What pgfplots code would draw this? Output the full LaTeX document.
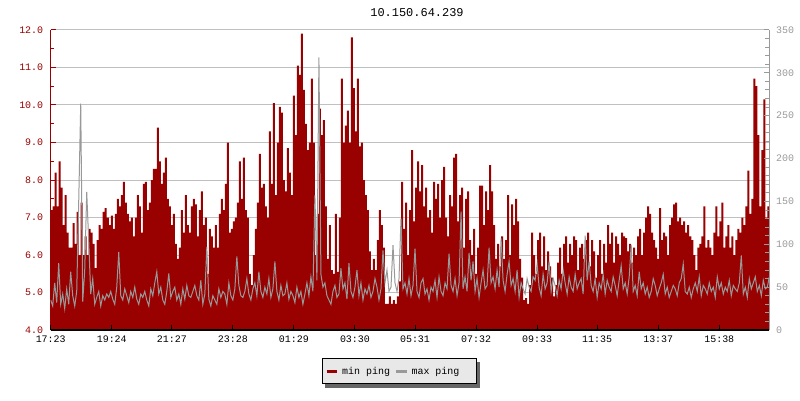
\documentclass[border=0pt]{standalone}
\usepackage{fontspec}
\setmainfont{Liberation Mono}
\usepackage{pgfplots}
\usepackage{pgfplotstable}
\pgfplotsset{compat=1.18}
\usetikzlibrary{backgrounds}

\definecolor{minred}{HTML}{990000}
\definecolor{maxgray}{HTML}{999999}
\definecolor{gridgray}{HTML}{C0C0C0}
\definecolor{legbg}{HTML}{E8E8E8}
\definecolor{shadowgray}{HTML}{666666}

% one sample every 4 minutes from 17:23
\pgfplotstableread[row sep=\\]{v\\
7.2\\7.3\\8.2\\7.3\\8.5\\7.8\\6.8\\7.6\\6.6\\6.2\\
6.2\\6.85\\6.3\\7.15\\6.0\\7.4\\6.0\\6.5\\6.0\\6.7\\
6.6\\6.3\\5.65\\6.4\\6.8\\6.7\\7.15\\7.25\\7.0\\6.8\\
7.05\\6.7\\7.1\\7.5\\7.3\\7.6\\7.95\\7.4\\7.1\\6.9\\
7.0\\6.5\\7.0\\7.6\\7.3\\6.6\\7.9\\7.95\\7.2\\7.4\\
8.0\\8.3\\8.3\\9.4\\8.5\\7.9\\8.2\\8.6\\7.5\\7.3\\
6.8\\7.1\\6.3\\5.9\\6.2\\7.2\\6.6\\7.6\\6.8\\6.6\\
7.3\\7.5\\7.35\\6.5\\7.2\\7.7\\6.8\\7.0\\5.5\\6.7\\
6.5\\6.2\\6.8\\6.2\\7.1\\7.5\\7.2\\7.9\\9.0\\6.6\\
6.7\\6.9\\7.0\\7.4\\8.5\\7.5\\8.6\\7.2\\7.0\\5.5\\
5.2\\6.0\\6.7\\7.4\\8.7\\7.8\\7.9\\7.3\\7.0\\9.3\\
7.9\\10.05\\7.6\\9.0\\9.95\\9.8\\8.0\\7.7\\8.85\\8.2\\
7.6\\10.25\\9.2\\11.05\\10.8\\11.9\\10.4\\9.5\\8.8\\9.0\\
10.7\\9.0\\6.0\\7.1\\9.9\\9.2\\9.6\\7.3\\5.9\\6.8\\
5.6\\5.5\\7.1\\5.55\\7.0\\10.7\\9.0\\9.45\\9.85\\9.0\\
11.8\\10.45\\9.3\\10.7\\8.9\\9.0\\8.0\\7.6\\7.2\\6.1\\
5.6\\5.9\\5.6\\6.4\\7.2\\6.8\\6.2\\4.7\\4.7\\4.9\\
4.7\\4.8\\4.7\\4.9\\5.3\\7.95\\6.7\\7.4\\6.0\\7.2\\
8.8\\6.9\\7.8\\8.5\\7.7\\8.4\\7.3\\7.8\\7.0\\7.2\\
6.6\\7.95\\7.5\\7.9\\7.0\\8.0\\8.35\\7.0\\6.5\\7.6\\
7.3\\8.6\\8.7\\6.9\\7.6\\7.8\\6.2\\7.5\\7.7\\6.4\\
6.0\\6.7\\5.5\\6.2\\7.85\\7.85\\6.8\\7.7\\7.2\\8.4\\
7.7\\6.8\\5.9\\6.3\\5.7\\6.5\\5.9\\6.4\\7.6\\6.0\\
7.35\\6.8\\7.5\\6.9\\5.9\\5.4\\4.8\\4.85\\4.7\\5.2\\
6.6\\6.0\\5.5\\6.4\\6.6\\5.7\\6.5\\5.6\\6.1\\5.7\\
5.4\\4.9\\5.2\\5.8\\6.2\\5.5\\6.3\\6.5\\5.8\\6.3\\
6.0\\6.5\\6.4\\5.6\\6.2\\6.3\\5.9\\6.4\\6.6\\5.7\\
6.4\\6.1\\5.4\\6.0\\6.4\\5.5\\6.3\\5.8\\6.8\\6.3\\
6.6\\5.8\\6.5\\6.3\\6.0\\6.6\\6.5\\6.45\\6.1\\6.3\\
5.8\\6.2\\6.0\\6.5\\6.7\\6.0\\6.6\\7.0\\7.3\\7.1\\
6.6\\6.4\\6.2\\5.9\\7.25\\6.4\\6.6\\6.5\\6.0\\6.8\\
7.0\\7.35\\7.4\\6.9\\7.0\\6.8\\6.9\\6.6\\6.8\\6.5\\
6.4\\6.0\\5.6\\6.2\\6.3\\6.5\\7.3\\6.2\\6.4\\6.2\\
6.0\\6.6\\7.3\\6.5\\6.9\\7.4\\6.2\\6.5\\6.8\\6.2\\
6.5\\6.0\\6.4\\6.7\\6.6\\7.0\\6.8\\7.3\\8.25\\7.1\\
7.5\\10.7\\10.5\\9.2\\7.3\\8.8\\10.15\\7.0\\7.3\\8.35\\
}\minping

\pgfplotstableread[row sep=\\]{v\\
35\\28\\55\\32\\78\\30\\42\\25\\48\\30\\
68\\40\\28\\45\\150\\264\\33\\70\\161\\103\\
42\\60\\30\\38\\45\\28\\40\\35\\42\\38\\
45\\36\\30\\50\\91\\40\\35\\48\\40\\32\\
45\\38\\50\\36\\30\\42\\38\\45\\35\\28\\
48\\40\\55\\68\\42\\50\\35\\30\\45\\66\\
38\\45\\50\\35\\42\\30\\48\\36\\52\\40\\
38\\45\\52\\40\\35\\58\\30\\42\\97\\36\\
28\\40\\35\\30\\48\\38\\45\\42\\30\\55\\
40\\35\\48\\86\\52\\40\\38\\45\\60\\42\\
35\\48\\55\\40\\68\\45\\38\\50\\42\\60\\
38\\48\\80\\45\\35\\52\\40\\42\\55\\36\\
45\\40\\32\\50\\38\\45\\30\\42\\55\\40\\
62\\45\\157\\58\\318\\65\\50\\55\\40\\35\\
30\\45\\52\\38\\42\\72\\48\\55\\36\\78\\
45\\38\\50\\70\\40\\55\\35\\48\\42\\52\\
38\\45\\60\\50\\35\\48\\93\\55\\70\\45\\
50\\99\\55\\45\\60\\130\\48\\55\\42\\60\\
40\\52\\95\\45\\38\\55\\60\\42\\48\\35\\
50\\45\\58\\38\\62\\45\\40\\55\\48\\89\\
52\\45\\60\\40\\55\\138\\48\\62\\45\\90\\
58\\80\\45\\60\\38\\55\\70\\48\\52\\96\\
55\\62\\48\\70\\50\\107\\58\\45\\65\\80\\
52\\60\\45\\70\\38\\55\\48\\42\\60\\50\\
45\\62\\58\\77\\50\\40\\65\\48\\55\\80\\
45\\60\\52\\40\\58\\48\\70\\55\\42\\62\\
50\\45\\65\\48\\55\\60\\42\\110\\58\\80\\
52\\45\\60\\38\\55\\48\\65\\42\\58\\50\\
45\\62\\52\\40\\58\\75\\48\\55\\42\\62\\
99\\45\\52\\40\\68\\48\\55\\42\\50\\38\\
45\\60\\52\\40\\48\\55\\65\\42\\50\\38\\
45\\52\\48\\40\\55\\60\\77\\45\\42\\50\\
38\\48\\55\\45\\62\\40\\52\\48\\42\\55\\
45\\50\\38\\62\\48\\55\\42\\50\\45\\58\\
40\\52\\48\\45\\55\\87\\42\\50\\38\\60\\
48\\55\\62\\45\\52\\40\\58\\48\\50\\62\\
}\maxping

\begin{document}
\begin{tikzpicture}[x=1bp,y=1bp]
\useasboundingbox (0,0) rectangle (800,400);
\node[anchor=base, font=\fontsize{12}{14}\selectfont] at (417,383.3) {10.150.64.239};

% left axis: min ping, filled
\begin{axis}[
  at={(50.7bp,70bp)}, anchor=south west,
  scale only axis, width=718.6bp, height=300bp,
  xmin=0, xmax=1436, ymin=4, ymax=12,
  axis x line=none, axis y line*=left,
  y axis line style={color=minred, line width=1bp},
  ytick={4,5,...,12}, minor y tick num=1,
  tick align=inside, major tick length=5bp, minor tick length=3.5bp,
  ytick style={color=minred, line width=1bp},
  ymajorgrids, major grid style={color=gridgray, line width=1bp},
  /pgf/number format/assume math mode=true,
  tick label style={font=\fontsize{10}{12}\selectfont},
  y tick label style={color=minred, xshift=-4bp,
    /pgf/number format/fixed, /pgf/number format/fixed zerofill,
    /pgf/number format/precision=1},
  legend columns=2,
  legend image code/.code={\draw[#1, line width=3bp] (0bp,0bp) -- (10.5bp,0bp);},
  legend style={name=legbox, at={(0.4851,-0.1377)}, anchor=center,
    draw=black, line width=1bp, fill=legbg,
    font=\fontsize{10}{12}\selectfont, inner xsep=3bp, inner ysep=6bp,
    /tikz/every odd column/.append style={column sep=1.5bp},
    /tikz/every even column/.append style={column sep=2.5bp}},
]
\addplot[const plot, fill=minred, draw=none, forget plot]
  table[x expr=\coordindex*4, y index=0] {\minping} \closedcycle;
\addlegendimage{minred}
\addlegendentry{min ping}
\addlegendimage{maxgray}
\addlegendentry{max ping\hspace*{12bp}}
\end{axis}

% right axis: max ping line, time axis
\begin{axis}[
  at={(50.7bp,70bp)}, anchor=south west,
  scale only axis, width=718.6bp, height=300bp,
  xmin=0, xmax=1436, ymin=0, ymax=350,
  axis x line*=bottom, axis y line*=right,
  x axis line style={color=black, line width=1.5bp},
  y axis line style={color=maxgray, line width=1bp},
  xtick={0,122,242,364,486,608,728,850,972,1092,1214,1336},
  xticklabels={17:23,19:24,21:27,23:28,01:29,03:30,05:31,07:32,09:33,11:35,13:37,15:38},
  ytick={0,50,...,350}, minor y tick num=4,
  tick align=inside, major tick length=5bp, minor tick length=4bp,
  xtick style={color=black, line width=1bp},
  ytick style={color=maxgray, line width=1bp},
  /pgf/number format/assume math mode=true,
  tick label style={font=\fontsize{10}{12}\selectfont},
  x tick label style={yshift=-2.7bp},
  y tick label style={color=maxgray, xshift=3.4bp},
]
\addplot[sharp plot, color=maxgray, line width=1bp, mark=none]
  table[x expr=\coordindex*4, y index=0] {\maxping};
\end{axis}

% legend shadow
\begin{scope}[on background layer]
  \fill[shadowgray] ([shift={(3.5bp,-3.5bp)}]legbox.south west)
    rectangle ([shift={(3.5bp,-3.5bp)}]legbox.north east);
\end{scope}
\end{tikzpicture}
\end{document}
